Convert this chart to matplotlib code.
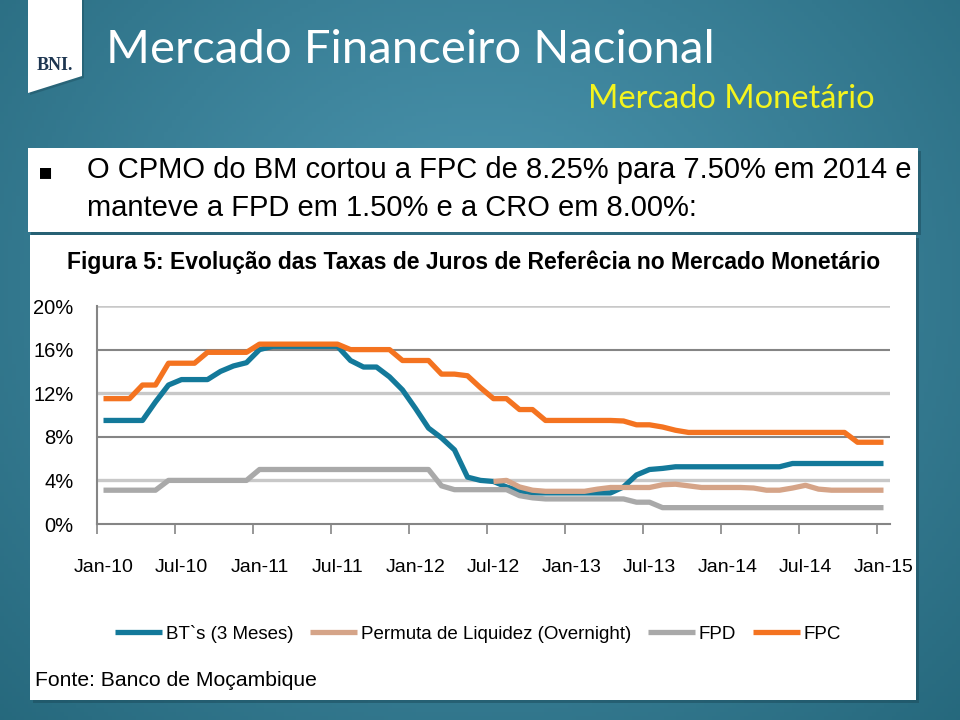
#!/usr/bin/env python3
import matplotlib
matplotlib.use('Agg')
import matplotlib.pyplot as plt
import matplotlib.patches as mpatches
import numpy as np

# monthly data, Jan-10 .. Jan-15 (61 points)
months = np.arange(61)
tick_labels = ['Jan-10', 'Jul-10', 'Jan-11', 'Jul-11', 'Jan-12', 'Jul-12',
               'Jan-13', 'Jul-13', 'Jan-14', 'Jul-14', 'Jan-15']
y_labels = ['0%', '4%', '8%', '12%', '16%', '20%']

bts = [9.5, 9.5, 9.5, 9.5, 11.2, 12.75, 13.25, 13.25, 13.25, 14.0,
       14.5, 14.8, 16.0, 16.3, 16.3, 16.3, 16.3, 16.3, 16.3, 15.0,
       14.4, 14.4, 13.5, 12.3, 10.6, 8.8, 7.9, 6.8, 4.3, 4.0,
       3.9, 3.4, 3.05, 2.85, 2.85, 2.85, 2.85, 2.85, 2.85, 2.85,
       3.4, 4.5, 5.0, 5.1, 5.25, 5.25, 5.25, 5.25, 5.25, 5.25,
       5.25, 5.25, 5.25, 5.55, 5.55, 5.55, 5.55, 5.55, 5.55, 5.55, 5.55]
permuta = [np.nan] * 30 + [
       3.9, 4.0, 3.4, 3.1, 3.0, 3.0, 3.0, 3.0, 3.2, 3.35,
       3.35, 3.35, 3.35, 3.6, 3.65, 3.5, 3.35, 3.35, 3.35, 3.35,
       3.3, 3.1, 3.1, 3.3, 3.55, 3.2, 3.1, 3.1, 3.1, 3.1, 3.1]
fpd = [3.1, 3.1, 3.1, 3.1, 3.1, 4.0, 4.0, 4.0, 4.0, 4.0,
       4.0, 4.0, 5.0, 5.0, 5.0, 5.0, 5.0, 5.0, 5.0, 5.0,
       5.0, 5.0, 5.0, 5.0, 5.0, 5.0, 3.5, 3.15, 3.15, 3.15,
       3.15, 3.15, 2.6, 2.4, 2.3, 2.3, 2.3, 2.3, 2.3, 2.3,
       2.3, 2.0, 2.0, 1.5, 1.5, 1.5, 1.5, 1.5, 1.5, 1.5,
       1.5, 1.5, 1.5, 1.5, 1.5, 1.5, 1.5, 1.5, 1.5, 1.5, 1.5]
fpc = [11.5, 11.5, 11.5, 12.75, 12.75, 14.75, 14.75, 14.75, 15.75, 15.75,
       15.75, 15.75, 16.5, 16.5, 16.5, 16.5, 16.5, 16.5, 16.5, 16.0,
       16.0, 16.0, 16.0, 15.0, 15.0, 15.0, 13.75, 13.75, 13.6, 12.5,
       11.5, 11.5, 10.5, 10.5, 9.5, 9.5, 9.5, 9.5, 9.5, 9.5,
       9.45, 9.1, 9.1, 8.9, 8.6, 8.4, 8.4, 8.4, 8.4, 8.4,
       8.4, 8.4, 8.4, 8.4, 8.4, 8.4, 8.4, 8.4, 7.5, 7.5, 7.5]

series_names = ['BT`s (3 Meses)', 'Permuta de Liquidez (Overnight)', 'FPD', 'FPC']
series_colors = ['#13799a', '#d5a488', '#a9a9a9', '#f47320']

W, H = 960, 720
fig = plt.figure(figsize=(W / 100, H / 100), dpi=100)

def fx(x):
    return x / W

def fy(y):
    return 1 - y / H

# slide background: soft radial teal gradient
bg = fig.add_axes([0, 0, 1, 1], zorder=-10)
gx, gy = np.meshgrid(np.linspace(0, 1, 240), np.linspace(0, 1, 180))
d = np.sqrt(((gx - 0.5) / 0.75) ** 2 + ((gy - 0.4) / 0.9) ** 2)
d = np.clip(d, 0, 1)
c_in = np.array([78, 152, 178]) / 255
c_out = np.array([36, 102, 122]) / 255
img = c_in[None, None, :] * (1 - d[..., None]) + c_out[None, None, :] * d[..., None]
bg.imshow(img, extent=[0, 1, 0, 1], aspect='auto', origin='upper')
bg.set_xlim(0, 1)
bg.set_ylim(0, 1)
bg.axis('off')

def fig_rect(x0, y0, x1, y1, **kw):
    r = mpatches.Rectangle((fx(x0), fy(y1)), (x1 - x0) / W, (y1 - y0) / H,
                           transform=fig.transFigure, edgecolor='none', zorder=-5, **kw)
    fig.patches.append(r)

# logo ribbon (with a thin shadow)
shadow = mpatches.Polygon([(fx(30), fy(0)), (fx(84), fy(0)), (fx(84), fy(78)), (fx(30), fy(95))],
                          closed=True, facecolor='#1b4a5a', alpha=0.4, edgecolor='none',
                          transform=fig.transFigure, zorder=-6)
fig.patches.append(shadow)
rib = mpatches.Polygon([(fx(28), fy(0)), (fx(82), fy(0)), (fx(82), fy(76)), (fx(28), fy(93))],
                       closed=True, facecolor='white', edgecolor='none',
                       transform=fig.transFigure, zorder=-5)
fig.patches.append(rib)
fig.text(fx(55), fy(66), 'BNI.', color='#1d3550', fontsize=13, fontweight='bold',
         family='Liberation Serif', ha='center', va='center')

fig.text(fx(106), fy(50), 'Mercado Financeiro Nacional', color='white', fontsize=34,
         family='Lato', ha='left', va='center')
fig.text(fx(875), fy(99), 'Mercado Monetário', color='#f4f41e', fontsize=23.5,
         family='Lato', ha='right', va='center')

# bullet box with a faint shadow
fig_rect(31, 151, 921, 235, facecolor='#1b4a5a', alpha=0.5)
fig_rect(28, 148, 918, 232, facecolor='white')
fig.text(fx(46), fy(172), '\u25aa', color='black', fontsize=16, ha='center', va='center')
fig.text(fx(87), fy(170), 'O CPMO do BM cortou a FPC de 8.25% para 7.50% em 2014 e',
         color='black', fontsize=21, family='Liberation Sans', ha='left', va='center')
fig.text(fx(87), fy(208), 'manteve a FPD em 1.50% e a CRO em 8.00%:',
         color='black', fontsize=21, family='Liberation Sans', ha='left', va='center')

# chart panel
fig_rect(33, 238, 919, 703, facecolor='#1b4a5a', alpha=0.5)
fig_rect(30, 235, 916, 700, facecolor='white')

cfont = 'Liberation Sans'
fig.text(fx(474), fy(262), 'Figura 5: Evolução das Taxas de Juros de Referêcia no Mercado Monetário',
         color='black', fontsize=16.5, fontweight='bold', family=cfont, ha='center', va='center')

ax = fig.add_axes([fx(97), fy(524), fx(890 - 97), (524 - 306) / H])
ax.set_facecolor('none')
lines = []
for vals, name, col in zip([bts, permuta, fpd, fpc], series_names, series_colors):
    l, = ax.plot(months, vals, color=col, lw=3.8, solid_capstyle='butt',
                 solid_joinstyle='round', label=name, zorder=3)
    lines.append(l)

# gridlines alternate light / dark like the original
grid_vals = [4, 8, 12, 16, 20]
grid_cols = ['#c8c8c8', '#858585', '#c8c8c8', '#858585', '#c8c8c8']
grid_lw = [2.4, 1.5, 2.4, 1.5, 1.8]
for gv, gc, gw in zip(grid_vals, grid_cols, grid_lw):
    ax.axhline(gv, color=gc, lw=gw, zorder=1)

ax.set_xlim(-0.5, 60.5)
ax.set_ylim(0, 20)
ax.set_yticks(np.arange(0, 21, 4))
ax.set_yticklabels(y_labels, family=cfont, fontsize=14.5)
ax.set_xticks(np.arange(0, 61, 6))
ax.set_xticklabels(tick_labels, family=cfont, fontsize=14)
ax.set_xticks(np.arange(-0.5, 61, 6), minor=True)
ax.tick_params(axis='x', which='major', length=0, pad=25)
ax.tick_params(axis='x', which='minor', length=7, width=1.2, color='#858585', direction='out')
ax.tick_params(axis='y', length=0, pad=17)
for s in ['top', 'right']:
    ax.spines[s].set_visible(False)
ax.spines['left'].set_color('#858585')
ax.spines['bottom'].set_color('#858585')
ax.spines['left'].set_linewidth(1.5)
ax.spines['bottom'].set_linewidth(1.5)

leg = ax.legend(handles=lines, loc='center', bbox_to_anchor=(fx(478), fy(634)),
                bbox_transform=fig.transFigure, ncol=4, frameon=False,
                prop={'family': cfont, 'size': 13.5}, handlelength=2.5,
                handletextpad=0.2, columnspacing=0.9)

fig.text(fx(35), fy(680), 'Fonte: Banco de Moçambique', color='black', fontsize=15.2,
         family=cfont, ha='left', va='center')

fig.savefig('out.png', dpi=100)
